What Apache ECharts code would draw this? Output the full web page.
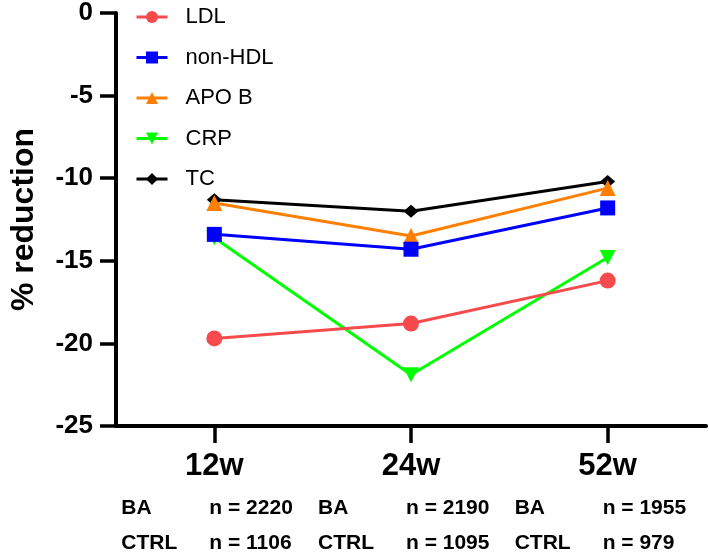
<!DOCTYPE html>
<html>
<head>
<meta charset="utf-8">
<script src="https://cdn.jsdelivr.net/npm/echarts@6/dist/echarts.min.js"></script>
<style>
html,body{margin:0;padding:0;background:#fff;}
#chart{width:709px;height:556px;}
</style>
</head>
<body>
<div id="chart"></div>
<script>
const categories = ['12w', '24w', '52w'];
const seriesNames = ['LDL', 'non-HDL', 'APO B', 'CRP', 'TC'];
const ldl = [-19.7, -18.8, -16.2];
const nonHdl = [-13.4, -14.3, -11.8];
const apoB = [-11.5, -13.5, -10.6];
const crp = [-13.6, -21.9, -14.8];
const tc = [-11.3, -12.0, -10.2];
const baN = [2220, 2190, 1955];
const ctrlN = [1106, 1095, 979];
const yTicks = [0, -5, -10, -15, -20, -25];

const FONT = '"Liberation Sans", Arial, Helvetica, sans-serif';
const chart = echarts.init(document.getElementById('chart'), null, {renderer: 'canvas'});

function mkSeries(name, data, color, symbol, size, z) {
  return {
    name: name, type: 'line', data: data, z: z,
    symbol: symbol, symbolSize: size,
    lineStyle: {color: color, width: 3},
    itemStyle: {color: color},
    emphasis: {disabled: true}
  };
}

const option = {
  animation: false,
  textStyle: {fontFamily: FONT},
  grid: {left: 107, right: 3, top: 12, bottom: 130, containLabel: false},
  legend: {
    orient: 'vertical', left: 130, top: 1,
    itemWidth: 31, itemHeight: 15, itemGap: 18.5,
    data: seriesNames,
    lineStyle: {width: 3},
    textStyle: {fontSize: 22, color: '#000', fontFamily: FONT, padding: [0, 0, 0, 13]}
  },
  xAxis: {
    type: 'category', data: categories, boundaryGap: true,
    axisLine: {onZero: false, lineStyle: {color: '#000', width: 4}},
    axisTick: {show: true, alignWithLabel: true, length: 17, lineStyle: {color: '#000', width: 3.5}},
    axisLabel: {fontSize: 31, fontWeight: 'bold', color: '#000', margin: 25, fontFamily: FONT},
    splitLine: {show: false}
  },
  yAxis: {
    type: 'value', min: yTicks[yTicks.length - 1], max: yTicks[0], interval: 5,
    name: '% reduction', nameLocation: 'middle', nameRotate: 90, nameGap: 76,
    nameTextStyle: {fontSize: 32, fontWeight: 'bold', color: '#000', fontFamily: FONT},
    axisLine: {show: true, onZero: false, lineStyle: {color: '#000', width: 4}},
    axisTick: {show: true, length: 16, lineStyle: {color: '#000', width: 3.5}},
    axisLabel: {fontSize: 26, fontWeight: 'bold', color: '#000', margin: 23, fontFamily: FONT},
    splitLine: {show: false}
  },
  series: [
    mkSeries('LDL', ldl, '#f64a4c', 'circle', 16, 10),
    mkSeries('non-HDL', nonHdl, '#0000ff', 'rect', 15, 9),
    mkSeries('APO B', apoB, '#ff8000', 'triangle', 16, 8),
    mkSeries('CRP', crp, '#00ff00', 'path://M0,0 L10,0 L5,9 Z', [16, 15], 7),
    mkSeries('TC', tc, '#000000', 'diamond', [15, 13], 6)
  ]
};
chart.setOption(option);

const graphics = [];
categories.forEach(function (c, i) {
  const cx = chart.convertToPixel({xAxisIndex: 0}, c);
  const rows = [['BA', baN[i], 510], ['CTRL', ctrlN[i], 545]];
  rows.forEach(function (r) {
    graphics.push({type: 'text', left: cx - 93, top: r[2] - 12,
      style: {text: r[0], font: 'bold 21px ' + FONT, fill: '#000'}});
    graphics.push({type: 'text', left: cx - 5, top: r[2] - 12,
      style: {text: 'n = ' + r[1], font: 'bold 21px ' + FONT, fill: '#000'}});
  });
});
chart.setOption({graphic: graphics});
</script>
</body>
</html>
